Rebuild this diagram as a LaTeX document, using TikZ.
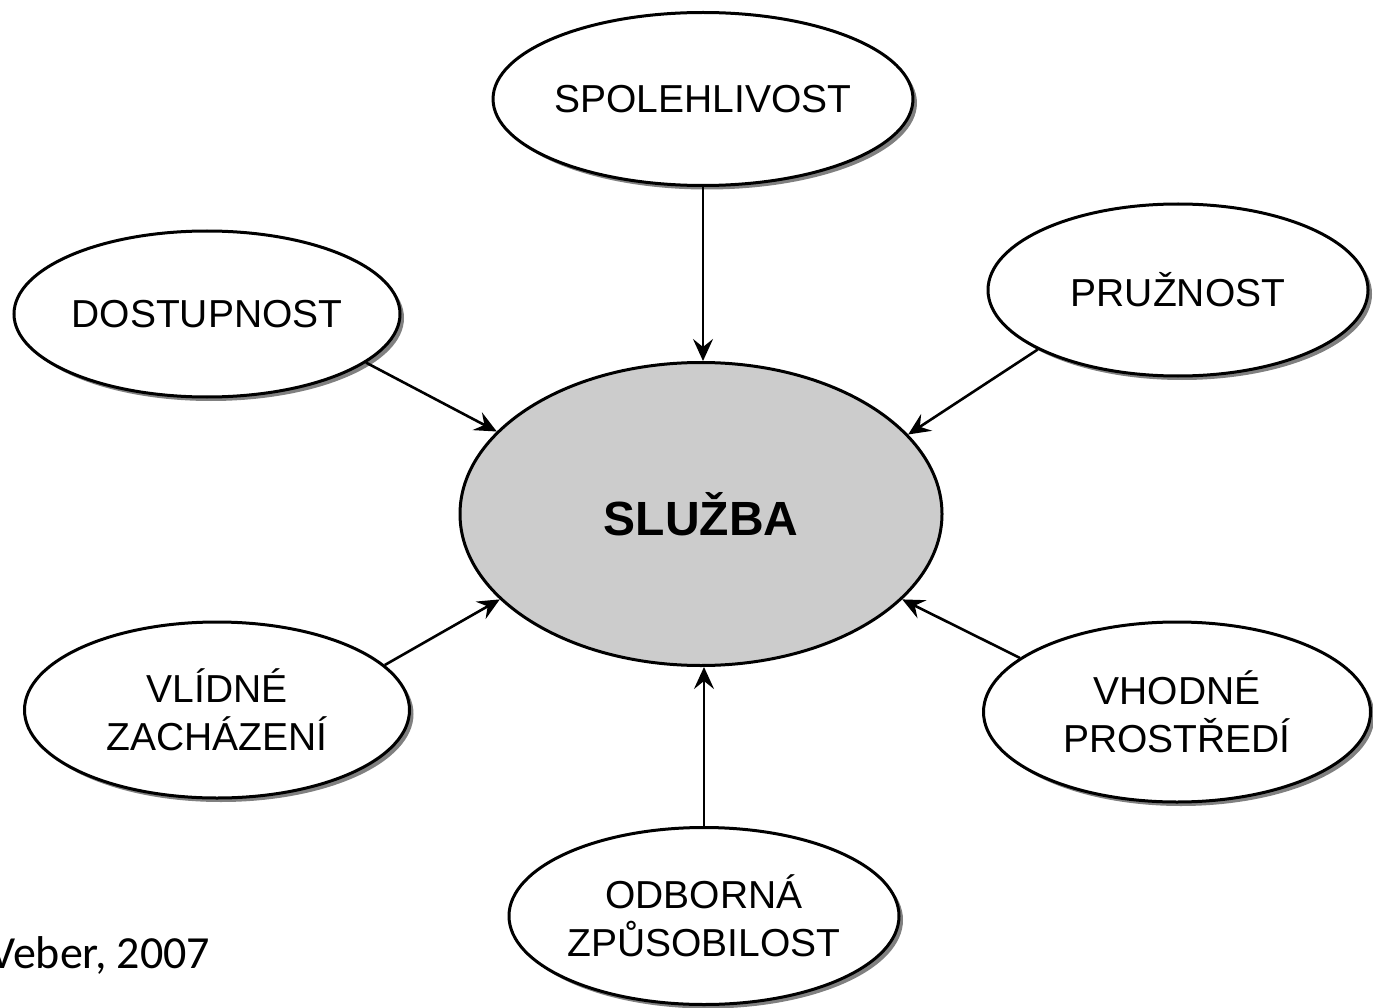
\documentclass[tikz,border=0pt]{standalone}
\usepackage{fontspec}
\setmainfont{Liberation Sans}
\newfontfamily\notefont{Carlito}
\usetikzlibrary{shapes.geometric,arrows.meta,shadows}

\tikzset{
  factor/.style={ellipse, draw=black, line width=3pt, fill=white,
    minimum width=#1, inner sep=0pt, align=center,
    font=\fontsize{39}{48}\selectfont,
    drop shadow={shadow xshift=4pt, shadow yshift=-4pt, fill=black!50, opacity=1}},
  core/.style={ellipse, draw=black, line width=3pt, fill=gray!40,
    minimum width=482pt, minimum height=303pt, inner sep=0pt,
    font=\fontsize{48}{56}\selectfont\bfseries},
  link/.style={line width=2.6pt, -{Stealth[length=22pt,width=20pt,inset=8pt]}}
}

\begin{document}
\begin{tikzpicture}[x=1pt, y=-1pt]
  \useasboundingbox (0,0) rectangle (1373,1008);

  % central service node
  \node[core] (sluzba) at (701,514) {SLUŽBA};

  % quality factors around it
  \node[factor=383pt, minimum height=173pt] (spol) at (703,99) {SPOLEHLIVOST};
  \node[factor=386pt, minimum height=166pt] (dost) at (207,314) {DOSTUPNOST};
  \node[factor=380pt, minimum height=172pt] (pruz) at (1178,290) {PRUŽNOST};
  \node[factor=385pt, minimum height=176pt] (vlid) at (217,710) {VLÍDNÉ\\ZACHÁZENÍ};
  \node[factor=387pt, minimum height=180pt] (vhod) at (1177,712) {VHODNÉ\\PROSTŘEDÍ};
  \node[factor=390pt, minimum height=177pt] (odbo) at (704,916) {ODBORNÁ\\ZPŮSOBILOST};

  % arrows into the central node
  \draw[link] (spol.south) -- (spol.south |- sluzba.north);
  \draw[link] (dost.-17) -- (sluzba.158.6);
  \draw[link] (pruz.203.4) -- (sluzba.21.4);
  \draw[link] (vlid.15.6) -- (sluzba.203.2);
  \draw[link] (vhod.161.7) -- (sluzba.-23.6);
  \draw[link] (odbo.north) -- (odbo.north |- sluzba.south);

  % source note
  \node[anchor=base west, inner sep=0pt, font=\notefont\fontsize{46}{54}\selectfont]
    (zdroj) at (-11,968) {Veber, 2007};
\end{tikzpicture}
\end{document}
